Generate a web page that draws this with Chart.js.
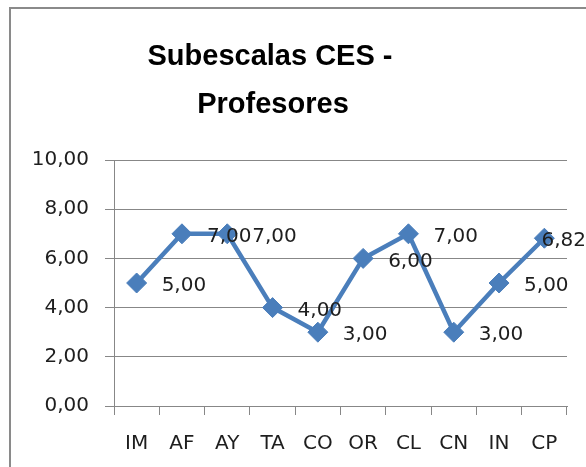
<!DOCTYPE html>
<html>
<head>
<meta charset="utf-8">
<script src="https://cdn.jsdelivr.net/npm/chart.js@4"></script>
<style>
  html, body { margin: 0; padding: 0; background: #fff; overflow: hidden; width: 586px; height: 467px; }
  #frame { position: absolute; left: 9px; top: 7px; width: 577px; height: 460px; border-left: 2px solid #8a8a8a; border-top: 2px solid #8a8a8a; box-sizing: border-box; }
  #wrap { position: absolute; left: 0; top: 0; width: 586px; height: 467px; }
</style>
</head>
<body>
<div id="frame"></div>
<div id="wrap"><canvas id="cesChart"></canvas></div>
<script>
const categories = ['IM', 'AF', 'AY', 'TA', 'CO', 'OR', 'CL', 'CN', 'IN', 'CP'];
const profesores = [5, 7, 7, 4, 3, 6, 7, 3, 5, 6.82];
const yTickLabels = ['0,00', '2,00', '4,00', '6,00', '8,00', '10,00'];
const titleLines = ['Subescalas CES -', 'Profesores'];

const blue = '#4A7EBB';
const gray = '#878787';
const textColor = '#1e1e1e';
const tickFont = { family: 'DejaVu Sans', size: 20 };

function fmt(v) {
    return v.toFixed(2).replace('.', ',');
}

// title drawn a bit left of the canvas centre, as in the original
const titlePlugin = {
    id: 'excelTitle',
    afterDraw(chart) {
        const ctx = chart.ctx;
        ctx.save();
        ctx.font = 'bold 29px "Liberation Sans"';
        ctx.fillStyle = '#000';
        ctx.textAlign = 'center';
        ctx.textBaseline = 'alphabetic';
        ctx.fillText(titleLines[0], 270, 65);
        ctx.fillText(titleLines[1], 273, 113);
        ctx.restore();
    }
};

// value labels to the right of each marker
const valueLabels = {
    id: 'valueLabels',
    afterDatasetsDraw(chart) {
        const ctx = chart.ctx;
        const meta = chart.getDatasetMeta(0);
        ctx.save();
        ctx.font = '20px "DejaVu Sans"';
        ctx.fillStyle = textColor;
        ctx.textAlign = 'left';
        ctx.textBaseline = 'middle';
        meta.data.forEach((pt, i) => {
            const txt = fmt(profesores[i]);
            const w = ctx.measureText(txt).width;
            const x = Math.min(pt.x + 25, chart.width - w);
            ctx.fillText(txt, x, pt.y + 3);
        });
        ctx.restore();
    }
};

const chart = new Chart(document.getElementById('cesChart'), {
    type: 'line',
    data: {
        labels: categories,
        datasets: [{
            label: 'Profesores',
            data: profesores,
            borderColor: blue,
            backgroundColor: blue,
            borderWidth: 4.5,
            tension: 0,
            pointStyle: 'rectRot',
            pointRadius: 10,
            pointBorderWidth: 1,
            pointBackgroundColor: blue,
            pointBorderColor: blue
        }]
    },
    options: {
        responsive: true,
        maintainAspectRatio: false,
        animation: false,
        layout: { padding: { top: 160, right: 19, left: 0, bottom: 0 } },
        plugins: {
            legend: { display: false },
            title: { display: false },
            tooltip: { enabled: false }
        },
        scales: {
            x: {
                offset: true,
                grid: {
                    offset: true,
                    drawOnChartArea: false,
                    drawTicks: true,
                    tickLength: 9,
                    color: gray
                },
                border: { display: true, color: gray },
                ticks: { font: tickFont, color: textColor, padding: 17, maxRotation: 0, autoSkip: false },
                afterFit(scale) { scale.height = 61; }
            },
            y: {
                min: 0,
                max: 10,
                ticks: {
                    stepSize: 2,
                    font: tickFont,
                    color: textColor,
                    padding: 16,
                    callback: (v, i) => yTickLabels[i]
                },
                grid: { color: gray, tickLength: 9, drawTicks: true },
                border: { display: true, color: gray },
                afterFit(scale) { scale.width = 114; }
            }
        }
    },
    plugins: [titlePlugin, valueLabels]
});
</script>
</body>
</html>
